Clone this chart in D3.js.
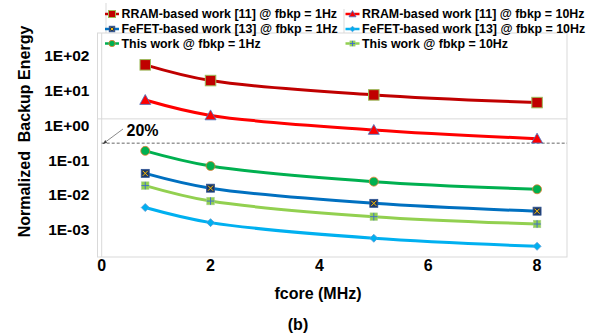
<!DOCTYPE html>
<html>
<head>
<meta charset="utf-8">
<script src="https://cdn.jsdelivr.net/npm/d3@7"></script>
<style>
  body { margin: 0; background: #fff; }
  svg { display: block; font-family: "Liberation Sans", Arial, sans-serif; font-weight: bold; }
</style>
</head>
<body>
<svg id="chart" width="594" height="334"></svg>
<script>
// fcore (MHz)
const fcore = [0.8, 2, 5, 8];

// normalized backup energy per series
const rram1Hz = [36, 12.7, 4.9, 2.95];
const rram10Hz = [3.5, 1.26, 0.48, 0.27];
const this1Hz = [0.12, 0.044, 0.0156, 0.0094];
const fefet1Hz = [0.027, 0.0101, 0.0037, 0.0022];
const this10Hz = [0.012, 0.0043, 0.00153, 0.00094];
const fefet10Hz = [0.0028, 0.00103, 0.000365, 0.000214];

const xTicks = [0, 2, 4, 6, 8];
const yTicks = [1e2, 1e1, 1e0, 1e-1, 1e-2, 1e-3];
const yTickLabels = ['1E+02', '1E+01', '1E+00', '1E-01', '1E-02', '1E-03'];

const gridValue = 1;      // 1E+00 reference line
const thresholdValue = 0.2; // "20%" dashed line

const series = [
    { name: 'RRAM-based work [11] @ fbkp = 1Hz', values: rram1Hz, color: '#c00000', marker: 'square', size: 10.5 },
    { name: 'RRAM-based work [11] @ fbkp = 10Hz', values: rram10Hz, color: '#ff0000', marker: 'triangle', size: 11 },
    { name: 'FeFET-based work [13] @ fbkp = 1Hz', values: fefet1Hz, color: '#0070c0', marker: 'xsquare', size: 8 },
    { name: 'FeFET-based work [13] @ fbkp = 10Hz', values: fefet10Hz, color: '#00b0f0', marker: 'diamond', size: 8 },
    { name: 'This work @ fbkp = 1Hz', values: this1Hz, color: '#00b050', marker: 'circle', size: 9 },
    { name: 'This work @ fbkp = 10Hz', values: this10Hz, color: '#92d050', marker: 'plus', size: 7.5 }
];

const svg = d3.select('#chart');

const plot = { left: 97.5, right: 567, top: 33, bottom: 257 };

const x = d3.scaleLinear().domain([0, 8.55]).range([101.7, 567]);
const y = d3.scaleLog().domain([1e-4, 1e3]).range([257.8, 14.7]);

// plot area frame
svg.append('rect')
    .attr('x', plot.left).attr('y', plot.top)
    .attr('width', plot.right - plot.left).attr('height', plot.bottom - plot.top)
    .attr('fill', 'none').attr('stroke', '#d9d9d9').attr('stroke-width', 1);

// y axis line
svg.append('line')
    .attr('x1', x(0)).attr('x2', x(0))
    .attr('y1', plot.top).attr('y2', plot.bottom)
    .attr('stroke', '#d9d9d9');

// legend frame (first column, upper rows)
svg.append('path')
    .attr('d', 'M106,3V33M344,9V33')
    .attr('fill', 'none').attr('stroke', '#d9d9d9');

// gridline at 1E+00
svg.append('line')
    .attr('x1', plot.left).attr('x2', plot.right)
    .attr('y1', y(gridValue)).attr('y2', y(gridValue))
    .attr('stroke', '#d9d9d9').attr('stroke-width', 1);

// 20% dashed line
svg.append('line')
    .attr('x1', x(0)).attr('x2', plot.right)
    .attr('y1', y(thresholdValue)).attr('y2', y(thresholdValue))
    .attr('stroke', '#404040').attr('stroke-width', 0.8)
    .attr('stroke-dasharray', '3,2');

svg.append('defs').append('marker')
    .attr('id', 'arrow')
    .attr('viewBox', '0 0 10 10')
    .attr('refX', 9).attr('refY', 5)
    .attr('markerWidth', 6).attr('markerHeight', 6)
    .attr('orient', 'auto')
    .append('path')
    .attr('d', 'M0,1L10,5L0,9Z')
    .attr('fill', '#404040');

svg.append('line')
    .attr('x1', 123).attr('y1', 129)
    .attr('x2', x(0) + 1.5).attr('y2', y(thresholdValue) + 0.5)
    .attr('stroke', '#595959').attr('stroke-width', 0.7)
    .attr('marker-end', 'url(#arrow)');

svg.append('text')
    .attr('x', 126.5).attr('y', 136)
    .attr('font-size', 16)
    .attr('fill', '#000')
    .text('20%');

// y tick labels
svg.append('g')
    .selectAll('text')
    .data(yTicks)
    .join('text')
    .attr('x', 89.5)
    .attr('y', d => y(d) + 6.5)
    .attr('dy', '0.35em')
    .attr('text-anchor', 'end')
    .attr('font-size', 15.5)
    .text((d, i) => yTickLabels[i]);

// x tick labels
svg.append('g')
    .selectAll('text')
    .data(xTicks)
    .join('text')
    .attr('x', d => x(d))
    .attr('y', 265)
    .attr('dy', '0.35em')
    .attr('text-anchor', 'middle')
    .attr('font-size', 16)
    .text(d => d);

// axis titles
svg.append('text')
    .attr('transform', 'translate(29.5,131.5) rotate(-90)')
    .attr('text-anchor', 'middle')
    .attr('font-size', 16)
    .attr('xml:space', 'preserve')
    .style('white-space', 'pre')
    .text('Normalized  Backup Energy');

svg.append('text')
    .attr('x', 318).attr('y', 299)
    .attr('text-anchor', 'middle')
    .attr('font-size', 16)
    .text('fcore (MHz)');

svg.append('text')
    .attr('x', 298).attr('y', 330)
    .attr('text-anchor', 'middle')
    .attr('font-size', 16)
    .text('(b)');

function drawMarker(g, s, size) {
    const h = size / 2;
    switch (s.marker) {
        case 'square':
            g.append('rect').attr('x', -h).attr('y', -h).attr('width', size).attr('height', size)
                .attr('fill', s.color).attr('stroke', '#9bbb59').attr('stroke-width', 1);
            break;
        case 'triangle':
            g.append('path').attr('d', `M0,${-h}L${h},${h * 0.8}L${-h},${h * 0.8}Z`)
                .attr('fill', s.color).attr('stroke', '#4472c4').attr('stroke-width', 0.8);
            break;
        case 'circle':
            g.append('circle').attr('r', h)
                .attr('fill', s.color).attr('stroke', '#ed7d31').attr('stroke-width', 0.8);
            break;
        case 'xsquare':
            g.append('rect').attr('x', -h).attr('y', -h).attr('width', size).attr('height', size)
                .attr('fill', '#1f3864').attr('stroke', '#2f5597').attr('stroke-width', 0.8);
            g.append('path').attr('d', `M${-h + 1.5},${-h + 1.5}L${h - 1.5},${h - 1.5}M${h - 1.5},${-h + 1.5}L${-h + 1.5},${h - 1.5}`)
                .attr('stroke', '#ffc000').attr('stroke-width', 1);
            break;
        case 'plus':
            g.append('rect').attr('x', -h).attr('y', -h).attr('width', size).attr('height', size)
                .attr('fill', s.color).attr('stroke', '#a9d18e').attr('stroke-width', 0.6);
            g.append('path').attr('d', `M0,${-h}V${h}M${-h},0H${h}`)
                .attr('stroke', '#4472c4').attr('stroke-width', 1);
            break;
        case 'diamond':
            g.append('path').attr('d', `M0,${-h}L${h},0L0,${h}L${-h},0Z`)
                .attr('fill', s.color).attr('stroke', '#5b9bd5').attr('stroke-width', 0.8);
            break;
    }
}

const line = d3.line()
    .x(d => x(d[0]))
    .y(d => y(d[1]))
    .curve(d3.curveCatmullRom.alpha(0.5));

const lines = svg.append('g');
series.forEach(s => {
    lines.append('path')
        .datum(fcore.map((f, i) => [f, s.values[i]]))
        .attr('fill', 'none')
        .attr('stroke', s.color)
        .attr('stroke-width', 3)
        .attr('d', line);
});

const markers = svg.append('g');
series.forEach(s => {
    fcore.forEach((f, i) => {
        const g = markers.append('g').attr('transform', `translate(${x(f)},${y(s.values[i])})`);
        drawMarker(g, s, s.size);
    });
});

// legend
const legendCols = [112, 352.5];
const legendRows = [14, 29, 43.5];
const legend = svg.append('g');
series.forEach((s, i) => {
    const cx = legendCols[i % 2];
    const cy = legendRows[Math.floor(i / 2)];
    legend.append('line')
        .attr('x1', cx - 7).attr('x2', cx + 7)
        .attr('y1', cy).attr('y2', cy)
        .attr('stroke', s.color).attr('stroke-width', 2.5);
    const g = legend.append('g').attr('transform', `translate(${cx},${cy})`);
    drawMarker(g, s, Math.min(s.size * 0.7, 7));
    legend.append('text')
        .attr('x', cx + 9.5)
        .attr('y', cy)
        .attr('dy', '0.35em')
        .attr('font-size', 12.4)
        .text(s.name);
});
</script>
</body>
</html>
